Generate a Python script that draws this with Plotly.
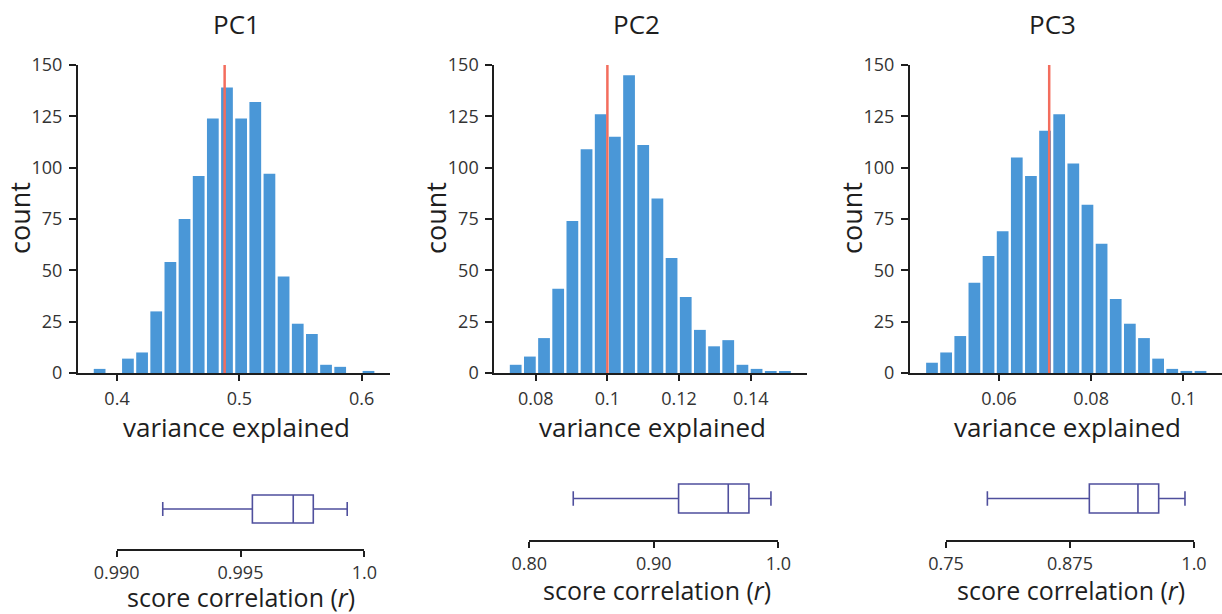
import plotly.graph_objects as go

# ---------------- data ----------------
panel_titles = ["PC1", "PC2", "PC3"]

pc1_counts = [2, 0, 7, 10, 30, 54, 75, 96, 124, 139, 124, 132, 97, 47, 24, 19, 4, 3, 0, 1]
pc2_counts = [4, 8, 17, 41, 74, 109, 126, 115, 145, 111, 85, 56, 37, 21, 13, 16, 4, 2, 1, 1]
pc3_counts = [5, 10, 18, 44, 57, 69, 105, 96, 118, 126, 102, 82, 63, 36, 24, 17, 7, 2, 1, 1]

pc1_bin_left, pc1_bin_width = 0.3800, 0.01157
pc2_bin_left, pc2_bin_width = 0.07244, 0.003953
pc3_bin_left, pc3_bin_width = 0.04393, 0.003067

observed = [0.488, 0.100, 0.0709]  # red reference lines

hist_tickvals = [[0.4, 0.5, 0.6], [0.08, 0.10, 0.12, 0.14], [0.06, 0.08, 0.10]]
hist_ticktext = [["0.4", "0.5", "0.6"], ["0.08", "0.1", "0.12", "0.14"], ["0.06", "0.08", "0.1"]]
count_ticks = [0, 25, 50, 75, 100, 125, 150]

# score correlation box statistics: lower whisker, q1, median, q3, upper whisker
box_low = [0.99186, 0.8353, 0.7917]
box_q1 = [0.99548, 0.9199, 0.8945]
box_med = [0.99713, 0.9598, 0.9435]
box_q3 = [0.99794, 0.9764, 0.9644]
box_high = [0.99931, 0.9941, 0.9909]

box_tickvals = [[0.990, 0.995, 1.0], [0.80, 0.90, 1.0], [0.75, 0.875, 1.0]]
box_ticktext = [["0.990", "0.995", "1.0"], ["0.80", "0.90", "1.0"], ["0.75", "0.875", "1.0"]]

# ---------------- layout geometry (pixels) ----------------
W, H = 1222, 614
def fx(p): return p / W
def fy(p): return 1 - p / H

hist_x_px = [(78, 390), (494.3, 806.7), (910, 1222)]
hist_xrange = [(0.3681, 0.6232), (0.06845, 0.1556), (0.04069, 0.1084)]
hist_y_px = (373, 65)   # bottom (0), top (150)

box_x_px = [(116.7, 364.3), (529.3, 778.3), (946, 1194)]
box_xrange = [(0.990, 1.0), (0.80, 1.0), (0.75, 1.0)]
box_axis_px = [549, 540, 540]
box_center_px = [509, 498.5, 498.5]
box_half_px = [14, 14.5, 14.5]

BAR = "#4a97d7"
RED = "#f36d5d"
BOXC = "#4f4f9d"
INK = "#1e1e1e"
FONT = "Open Sans"

counts_all = [pc1_counts, pc2_counts, pc3_counts]
bins_all = [(pc1_bin_left, pc1_bin_width), (pc2_bin_left, pc2_bin_width), (pc3_bin_left, pc3_bin_width)]

fig = go.Figure()
layout = dict(
    width=W, height=H, margin=dict(l=0, r=0, t=0, b=0, pad=0, autoexpand=False),
    paper_bgcolor="white", plot_bgcolor="white", showlegend=False,
    font=dict(family=FONT, color=INK),
    annotations=[],
)

for i in range(3):
    n = i + 1
    xa, ya = f"x{n if n > 1 else ''}", f"y{n if n > 1 else ''}"
    left, width = bins_all[i]
    counts = counts_all[i]
    centers = [left + (k + 0.5) * width for k in range(len(counts))]
    fig.add_trace(go.Bar(x=centers, y=counts, width=width * 0.83,
                         marker=dict(color=BAR, line=dict(width=0)),
                         xaxis=xa, yaxis=ya, hoverinfo="x+y"))
    fig.add_trace(go.Scatter(x=[observed[i], observed[i]], y=[0, 150], mode="lines",
                             line=dict(color=RED, width=2.5), xaxis=xa, yaxis=ya))

    layout[f"xaxis{n if n > 1 else ''}"] = dict(
        domain=[fx(hist_x_px[i][0]), fx(hist_x_px[i][1])], range=list(hist_xrange[i]),
        anchor=ya, showline=True, linecolor=INK, linewidth=2, ticks="outside",
        ticklen=6, tickwidth=2, tickcolor=INK, tickvals=hist_tickvals[i],
        ticktext=hist_ticktext[i], showgrid=False, zeroline=False, automargin=False,
        tickfont=dict(size=18, color="#333333", family=FONT), ticklabelstandoff=2)
    layout[f"yaxis{n if n > 1 else ''}"] = dict(
        domain=[fy(hist_y_px[0]), fy(hist_y_px[1])], range=[0, 150], anchor=xa,
        showline=True, linecolor=INK, linewidth=2, ticks="outside", ticklen=7,
        tickwidth=2, tickcolor=INK, tickvals=count_ticks, showgrid=False,
        zeroline=False, automargin=False,
        tickfont=dict(size=18, color="#333333", family=FONT), ticklabelstandoff=3)

    # box plot panel
    m = n + 3
    bxa, bya = f"x{m}", f"y{m}"
    top_px = box_axis_px[i] - 80
    dom_h = box_axis_px[i] - top_px
    center = (box_axis_px[i] - box_center_px[i]) / dom_h
    bw = 2 * box_half_px[i] / dom_h
    fig.add_trace(go.Box(
        y=[center], q1=[box_q1[i]], median=[box_med[i]], q3=[box_q3[i]],
        lowerfence=[box_low[i]], upperfence=[box_high[i]], orientation="h",
        width=bw, fillcolor="white", line=dict(color=BOXC, width=1.6),
        boxpoints=False, xaxis=bxa, yaxis=bya))
    layout[f"xaxis{m}"] = dict(
        domain=[fx(box_x_px[i][0]), fx(box_x_px[i][1])], range=list(box_xrange[i]),
        anchor=bya, showline=True, linecolor=INK, linewidth=2, ticks="outside",
        ticklen=6, tickwidth=2, tickcolor=INK, tickvals=box_tickvals[i],
        ticktext=box_ticktext[i], showgrid=False, zeroline=False, automargin=False,
        tickfont=dict(size=18, color="#333333", family=FONT), ticklabelstandoff=0)
    layout[f"yaxis{m}"] = dict(
        domain=[fy(box_axis_px[i]), fy(top_px)], range=[0, 1], anchor=bxa,
        visible=False, showgrid=False, zeroline=False, automargin=False)

# text annotations (pixel positions)
title_x = [236, 636, 1052]
varexp_x = [236, 652, 1067]
count_x = [20, 436, 852]
score_x = [241, 657, 1071]
score_y = [597, 590, 590]

def ann(text, x, y, size, angle=0):
    return dict(text=text, x=fx(x), y=fy(y), xref="paper", yref="paper",
                showarrow=False, xanchor="center", yanchor="middle", textangle=angle,
                font=dict(size=size, family=FONT, color=INK))

for i in range(3):
    layout["annotations"].append(ann(panel_titles[i], title_x[i], 24, 26))
    layout["annotations"].append(ann("variance explained", varexp_x[i], 427, 26))
    layout["annotations"].append(ann("count", count_x[i], 218, 27, -90))
    layout["annotations"].append(ann("score correlation (<i>r</i>)", score_x[i], score_y[i], 25))

fig.update_layout(**layout)
fig.write_html("out.html")
